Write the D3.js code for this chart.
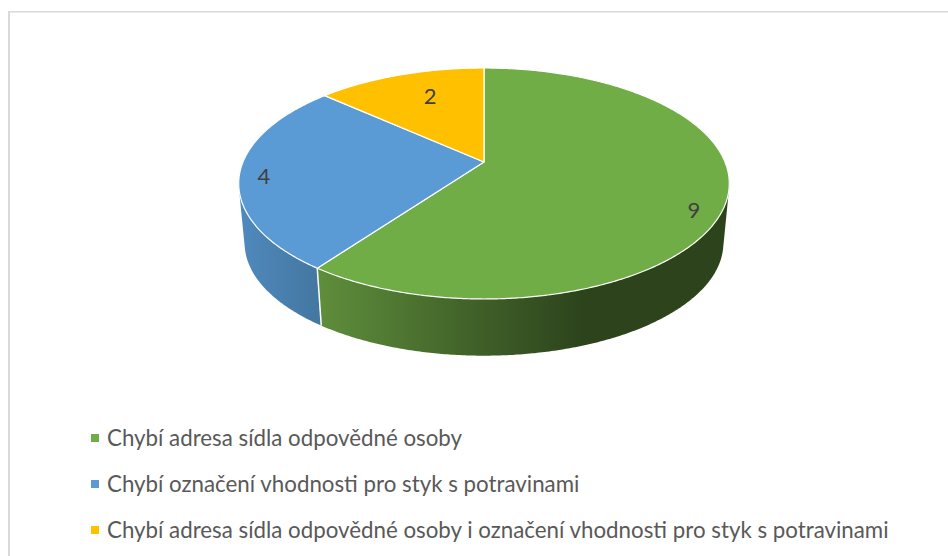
<!DOCTYPE html>
<html>
<head>
<meta charset="utf-8">
<script src="https://cdn.jsdelivr.net/npm/d3@7"></script>
<style>
  html, body { margin: 0; padding: 0; background: #fff; }
  svg { display: block; }
  text { font-family: Lato, "Open Sans", sans-serif; }
</style>
</head>
<body>
<svg id="chart" width="948" height="556"></svg>
<script>
const categories = [
    'Chybí adresa sídla odpovědné osoby',
    'Chybí označení vhodnosti pro styk s potravinami',
    'Chybí adresa sídla odpovědné osoby i označení vhodnosti pro styk s potravinami'
];
const values = [9, 4, 2];
const sliceColors = ['#70AD47', '#5B9BD5', '#FFC000'];
const wallColors = [
    [[321, '#5E8D3B'], [480, '#3F5F28'], [585, '#2C431C'], [729, '#2C431C']],
    [[239, '#5089BE'], [321, '#43779F']],
    [[239, '#5089BE'], [321, '#43779F']]
];

const svg = d3.select('#chart');
const color = d3.scaleOrdinal().domain(categories).range(sliceColors);

// Frame of the chart area, only left and top are in the crop
svg.append('rect').attr('x', 8).attr('y', 11).attr('width', 2).attr('height', 545).attr('fill', '#d9d9d9');
svg.append('rect').attr('x', 8).attr('y', 11).attr('width', 940).attr('height', 1.5).attr('fill', '#d9d9d9');

// Perspective projection of the pie disc
const cx = 484;
const topApexY = 162;
const spreadX = 241;
const spreadY = 111.5;
const tilt = 0.186;
const bottomScale = 0.976;
const bottomApexY = 222;

function project(angle, r, level) {
    const u = Math.sin(angle) * r;
    const v = Math.cos(angle) * r;
    const w = 1 + tilt * v;
    const s = level === 0 ? 1 : bottomScale;
    const y0 = level === 0 ? topApexY : bottomApexY;
    return [cx + s * spreadX * u / w, y0 - s * spreadY * v / w];
}

const arcs = d3.pie().value(d => d).sort(null)(values);
const defs = svg.append('defs');
const step = Math.PI / 360;

// Side wall is the hull of both rims, the top face is drawn over the inner part
function wallPath(d) {
    const points = [];
    const start = Math.max(d.startAngle, Math.PI / 2 - 0.5);
    const end = Math.min(d.endAngle, Math.PI * 1.5 + 0.5);
    for (let a = start; a < end; a += step) {
        points.push(project(a, 1, 0), project(a, 1, 1));
    }
    points.push(project(end, 1, 0), project(end, 1, 1));
    return 'M' + d3.polygonHull(points).join('L') + 'Z';
}

function topPath(d) {
    const p = d3.path();
    p.moveTo(cx, topApexY);
    for (let a = d.startAngle; a < d.endAngle; a += step) p.lineTo(...project(a, 1, 0));
    p.lineTo(...project(d.endAngle, 1, 0));
    p.closePath();
    return p.toString();
}

wallColors.forEach((stops, i) => {
    const g = defs.append('linearGradient')
        .attr('id', 'wall' + i)
        .attr('gradientUnits', 'userSpaceOnUse')
        .attr('x1', stops[0][0]).attr('x2', stops[stops.length - 1][0])
        .attr('y1', 0).attr('y2', 0);
    const span = stops[stops.length - 1][0] - stops[0][0];
    stops.forEach(s => g.append('stop')
        .attr('offset', (s[0] - stops[0][0]) / span)
        .attr('stop-color', s[1]));
});

const pie3d = svg.append('g');

// Only blue and green walls face the viewer, green last so it keeps the seam
pie3d.selectAll('.wall')
    .data(arcs.filter(d => d.endAngle > Math.PI / 2 && d.startAngle < Math.PI * 1.5).reverse())
    .join('path')
    .attr('class', 'wall')
    .attr('d', wallPath)
    .attr('fill', d => `url(#wall${d.index})`);

// White seam between the two walls
const seamAngle = arcs[0].endAngle;
pie3d.append('line')
    .attr('x1', project(seamAngle, 1, 0)[0]).attr('y1', project(seamAngle, 1, 0)[1])
    .attr('x2', project(seamAngle, 1, 1)[0]).attr('y2', project(seamAngle, 1, 1)[1])
    .attr('stroke', '#fff').attr('stroke-width', 1.5);

pie3d.selectAll('.slice')
    .data(arcs)
    .join('path')
    .attr('class', 'slice')
    .attr('d', topPath)
    .attr('fill', (d, i) => color(categories[i]))
    .attr('stroke', '#fff')
    .attr('stroke-width', 1.2)
    .attr('stroke-linejoin', 'round');

// Data labels, nudged from the slice centre as Excel places them
const labelOffsets = [[5, 18], [-13, 4], [19, 10]];
pie3d.selectAll('.label')
    .data(arcs)
    .join('text')
    .attr('class', 'label')
    .attr('x', (d, i) => project((d.startAngle + d.endAngle) / 2, 0.85, 0)[0] + labelOffsets[i][0])
    .attr('y', (d, i) => project((d.startAngle + d.endAngle) / 2, 0.85, 0)[1] + labelOffsets[i][1])
    .attr('text-anchor', 'middle')
    .attr('dy', '0.35em')
    .attr('font-size', 22)
    .attr('fill', '#404040')
    .text(d => d.data);

// Legend
const legendY = d3.scalePoint().domain(categories).range([438, 530]);
const legend = svg.append('g').selectAll('g')
    .data(categories)
    .join('g')
    .attr('transform', d => `translate(91,${legendY(d)})`);

legend.append('rect')
    .attr('x', 0).attr('y', -4)
    .attr('width', 8).attr('height', 8)
    .attr('fill', d => color(d));

legend.append('text')
    .attr('x', 16)
    .attr('y', 8)
    .attr('font-size', 22.3)
    .attr('fill', '#595959')
    .text(d => d);
</script>
</body>
</html>
